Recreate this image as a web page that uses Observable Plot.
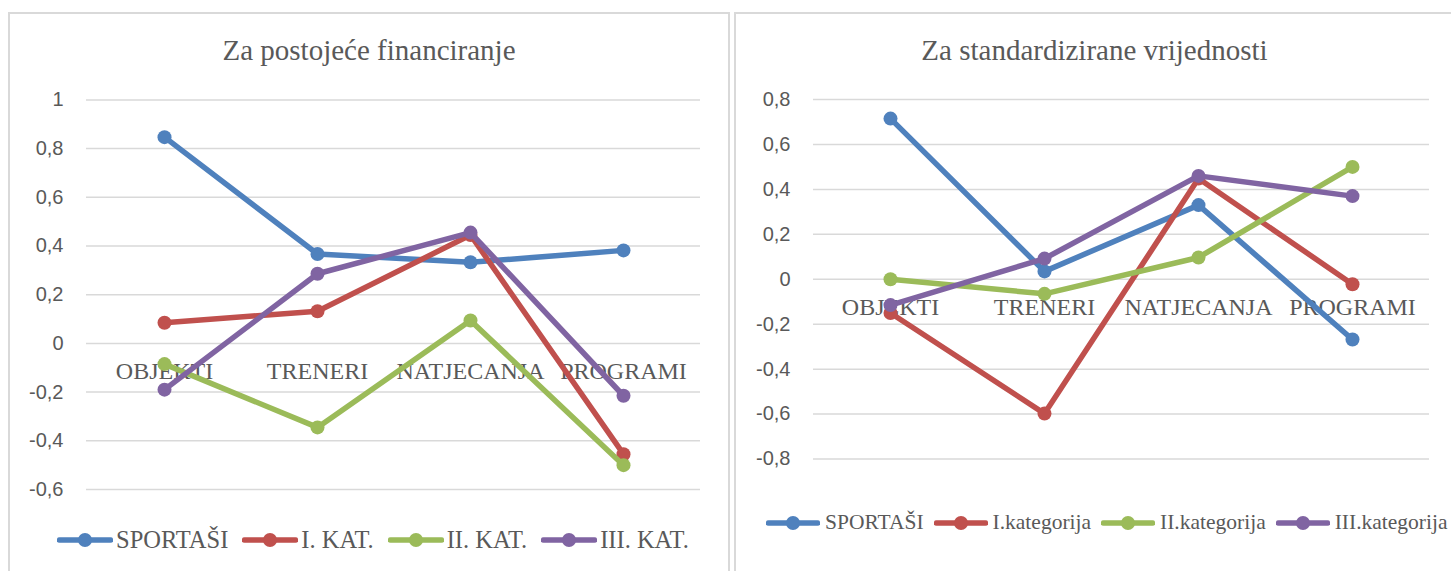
<!DOCTYPE html>
<html>
<head>
<meta charset="utf-8">
<script src="https://cdn.jsdelivr.net/npm/d3@7"></script>
<script src="https://cdn.jsdelivr.net/npm/@observablehq/plot@0.6"></script>
<style>
  html, body { margin: 0; padding: 0; background: #fff; width: 1451px; height: 571px; overflow: hidden; position: relative; }
  .panel { position: absolute; border: 2px solid #D9D9D9; box-sizing: border-box; }
  .title { position: absolute; font-family: "Liberation Serif", "Times New Roman", serif; font-size: 29px; color: #595959; text-align: center; white-space: nowrap; line-height: normal; }
  .chart { position: absolute; }
  .legend { position: absolute; display: flex; align-items: center; font-family: "Liberation Serif", "Times New Roman", serif; color: #595959; white-space: nowrap; }
  .legend .item { display: flex; align-items: center; }
  .legend svg { display: block; }
</style>
</head>
<body>
<div class="panel" style="left:8px; top:12px; width:722px; height:600px;"></div>
<div class="panel" style="left:734px; top:12px; width:730px; height:600px;"></div>
<div class="title" id="title1" style="left:8px; width:722px; top:34px;"></div>
<div class="title" id="title2" style="left:734px; width:721px; top:34px;"></div>
<div class="chart" id="chart1" style="left:0px; top:80px;"></div>
<div class="chart" id="chart2" style="left:730px; top:80px;"></div>
<div class="legend" id="legend1" style="left:57px; top:526px; font-size:24.5px;"></div>
<div class="legend" id="legend2" style="left:766px; top:510px; font-size:21.5px;"></div>
<script>
// ---- Data ----
const categories = ["OBJEKTI", "TRENERI", "NATJECANJA", "PROGRAMI"];
const colors = ["#4F81BD", "#C0504D", "#9BBB59", "#8064A2"];

const title1 = "Za postojeće financiranje";
const series1 = ["SPORTAŠI", "I. KAT.", "II. KAT.", "III. KAT."];
const sportasi1 = [0.847, 0.367, 0.333, 0.382];
const kat1_1 = [0.085, 0.132, 0.445, -0.455];
const kat2_1 = [-0.085, -0.345, 0.094, -0.5];
const kat3_1 = [-0.19, 0.286, 0.455, -0.215];
const yTicks1 = [-0.6, -0.4, -0.2, 0, 0.2, 0.4, 0.6, 0.8, 1];

const title2 = "Za standardizirane vrijednosti";
const series2 = ["SPORTAŠI", "I.kategorija", "II.kategorija", "III.kategorija"];
const sportasi2 = [0.715, 0.035, 0.33, -0.268];
const kat1_2 = [-0.15, -0.598, 0.448, -0.022];
const kat2_2 = [0, -0.065, 0.097, 0.5];
const kat3_2 = [-0.115, 0.092, 0.46, 0.37];
const yTicks2 = [-0.8, -0.6, -0.4, -0.2, 0, 0.2, 0.4, 0.6, 0.8];

function toRows(names, valueArrays) {
  const rows = [];
  names.forEach((s, i) => {
    valueArrays[i].forEach((v, j) => rows.push({series: s, category: categories[j], value: v}));
  });
  return rows;
}

const fmt = d => String(+d.toFixed(1)).replace(".", ",");

function makeChart(names, rows, ticks, opts) {
  const seriesMarks = [];
  names.forEach((s, i) => {
    const sub = rows.filter(r => r.series === s);
    seriesMarks.push(Plot.line(sub, {x: "category", y: "value", stroke: colors[i], strokeWidth: 5.5, strokeLinejoin: "round", strokeLinecap: "round"}));
    seriesMarks.push(Plot.dot(sub, {x: "category", y: "value", fill: colors[i], r: 7, stroke: "none"}));
  });
  return Plot.plot({
    width: opts.width,
    height: opts.height,
    marginLeft: opts.marginLeft,
    marginRight: opts.marginRight,
    marginTop: opts.marginTop,
    marginBottom: opts.marginBottom,
    style: {background: "transparent", overflow: "visible"},
    x: {type: "point", domain: categories, padding: 0.5, axis: null},
    y: {domain: [ticks[0], ticks[ticks.length - 1]], axis: null},
    marks: [
      Plot.ruleY(ticks, {stroke: "#D9D9D9", strokeWidth: 1.5}),
      Plot.axisY(ticks, {tickSize: 0, tickPadding: 23, tickFormat: fmt, fontSize: 20, fontFamily: "Liberation Sans, Arial, sans-serif", fill: "#595959", label: null}),
      Plot.text(categories, {x: d => d, y: () => 0, dy: 28, text: d => d, fontSize: 24, fontFamily: "Liberation Serif, Times New Roman, serif", fill: "#595959", lineAnchor: "middle"}),
      ...seriesMarks
    ]
  });
}

const rows1 = toRows(series1, [sportasi1, kat1_1, kat2_1, kat3_1]);
const rows2 = toRows(series2, [sportasi2, kat1_2, kat2_2, kat3_2]);

document.getElementById("title1").textContent = title1;
document.getElementById("title2").textContent = title2;

document.getElementById("chart1").appendChild(
  makeChart(series1, rows1, yTicks1, {width: 729, height: 430, marginLeft: 86, marginRight: 29, marginTop: 19.4, marginBottom: 21})
);
document.getElementById("chart2").appendChild(
  makeChart(series2, rows2, yTicks2, {width: 721, height: 400, marginLeft: 83, marginRight: 22, marginTop: 19, marginBottom: 21.5})
);

function makeLegend(el, names, swatchW, textGap, itemGap) {
  names.forEach((s, i) => {
    const item = document.createElement("div");
    item.className = "item";
    if (i > 0) item.style.marginLeft = itemGap + "px";
    const svg = d3.create("svg").attr("width", swatchW).attr("height", 16);
    svg.append("line").attr("x1", 2.5).attr("x2", swatchW - 2.5).attr("y1", 8).attr("y2", 8)
      .attr("stroke", colors[i]).attr("stroke-width", 5.5).attr("stroke-linecap", "round");
    svg.append("circle").attr("cx", swatchW / 2).attr("cy", 8).attr("r", 7).attr("fill", colors[i]);
    item.appendChild(svg.node());
    const t = document.createElement("span");
    t.textContent = s;
    t.style.marginLeft = textGap + "px";
    item.appendChild(t);
    el.appendChild(item);
  });
}
makeLegend(document.getElementById("legend1"), series1, 56, 3, 14);
makeLegend(document.getElementById("legend2"), series2, 54, 5, 10);
</script>
</body>
</html>
